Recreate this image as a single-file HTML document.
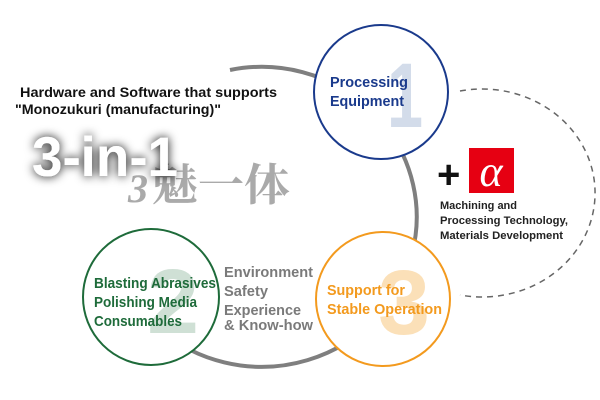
<!DOCTYPE html>
<html><head><meta charset="utf-8"><style>
body{margin:0;background:#fff;}
svg{display:block;}
text{font-family:"Liberation Sans",Arial,sans-serif;font-weight:bold;}
</style></head><body>
<svg width="600" height="400" viewBox="0 0 600 400" xmlns="http://www.w3.org/2000/svg">
<defs>
<filter id="sh" x="-20%" y="-50%" width="140%" height="200%"><feGaussianBlur in="SourceAlpha" stdDeviation="5"/><feComponentTransfer><feFuncA type="linear" slope="1"/></feComponentTransfer><feMerge><feMergeNode/><feMergeNode in="SourceGraphic"/></feMerge></filter>
</defs>
<!-- dashed arc -->
<path d="M 460 91 A 113 104 0 1 1 460 295" fill="none" stroke="#666" stroke-width="1.5" stroke-dasharray="6,5"/>
<!-- gray arc -->
<path d="M 230 70 A 155 150 0 1 1 160 330" fill="none" stroke="#7f7f7f" stroke-width="4"/>
<!-- circle 1 -->
<circle cx="381" cy="92" r="67" fill="#fff" stroke="#1a3a8c" stroke-width="2"/>
<text x="387" y="127" font-size="92" fill="#d3dcea" textLength="36" lengthAdjust="spacingAndGlyphs">1</text>
<text x="330" y="87" font-size="15" fill="#1a3a8c" textLength="78" lengthAdjust="spacingAndGlyphs">Processing</text>
<text x="330" y="106" font-size="15" fill="#1a3a8c" textLength="74" lengthAdjust="spacingAndGlyphs">Equipment</text>
<!-- circle 3 -->
<circle cx="383" cy="299" r="67" fill="#fff" stroke="#f39a1e" stroke-width="2"/>
<text x="378" y="334" font-size="92" fill="#fbe0b8" textLength="52" lengthAdjust="spacingAndGlyphs">3</text>
<text x="327" y="295" font-size="15" fill="#f39a1e" textLength="78" lengthAdjust="spacingAndGlyphs">Support for</text>
<text x="327" y="314" font-size="15" fill="#f39a1e" textLength="115" lengthAdjust="spacingAndGlyphs">Stable Operation</text>
<!-- circle 2 -->
<circle cx="151" cy="297" r="68" fill="#fff" stroke="#1e6b3a" stroke-width="2"/>
<text x="147" y="333" font-size="92" fill="#cfe0d5" textLength="52" lengthAdjust="spacingAndGlyphs">2</text>
<text x="94" y="288" font-size="15" fill="#1e6b3a" textLength="122" lengthAdjust="spacingAndGlyphs">Blasting Abrasives</text>
<text x="94" y="307" font-size="15" fill="#1e6b3a" textLength="103" lengthAdjust="spacingAndGlyphs">Polishing Media</text>
<text x="94" y="326" font-size="15" fill="#1e6b3a" textLength="88" lengthAdjust="spacingAndGlyphs">Consumables</text>
<!-- gray list -->
<g font-size="15" fill="#7a7a7a">
<text x="224" y="277" textLength="89" lengthAdjust="spacingAndGlyphs">Environment</text>
<text x="224" y="296" textLength="44" lengthAdjust="spacingAndGlyphs">Safety</text>
<text x="224" y="315" textLength="77" lengthAdjust="spacingAndGlyphs">Experience</text>
<text x="224" y="330" textLength="89" lengthAdjust="spacingAndGlyphs">&amp; Know-how</text>
</g>
<!-- +alpha -->
<text x="437" y="188" font-size="40" fill="#111">+</text>
<rect x="469" y="148" width="45" height="45" fill="#e60012"/>
<text x="491" y="186" font-size="44" fill="#fff" text-anchor="middle" style="font-family:'Liberation Serif',serif;font-style:italic;font-weight:normal">α</text>
<g font-size="11" fill="#222">
<text x="440" y="209">Machining and</text>
<text x="440" y="224" textLength="128" lengthAdjust="spacingAndGlyphs">Processing Technology,</text>
<text x="440" y="239" textLength="123" lengthAdjust="spacingAndGlyphs">Materials Development</text>
</g>
<!-- headline -->
<text x="20" y="97" font-size="13.5" fill="#111" textLength="257" lengthAdjust="spacingAndGlyphs">Hardware and Software that supports</text>
<text x="15" y="114" font-size="13.5" fill="#111" textLength="206" lengthAdjust="spacingAndGlyphs">"Monozukuri (manufacturing)"</text>
<text x="128" y="202" font-size="40" fill="#aaa" style="font-family:'Liberation Serif',serif;font-style:italic;font-weight:bold">3</text>
<text x="152" y="200" font-size="44" fill="#aaa" textLength="138" lengthAdjust="spacingAndGlyphs" style="font-family:'Noto Serif CJK SC','Noto Sans CJK SC',serif;font-weight:bold">魅一体</text>
<text x="32" y="176" font-size="56" fill="#fff" filter="url(#sh)" textLength="146" lengthAdjust="spacingAndGlyphs">3-in-1</text>
</svg>
</body></html>
